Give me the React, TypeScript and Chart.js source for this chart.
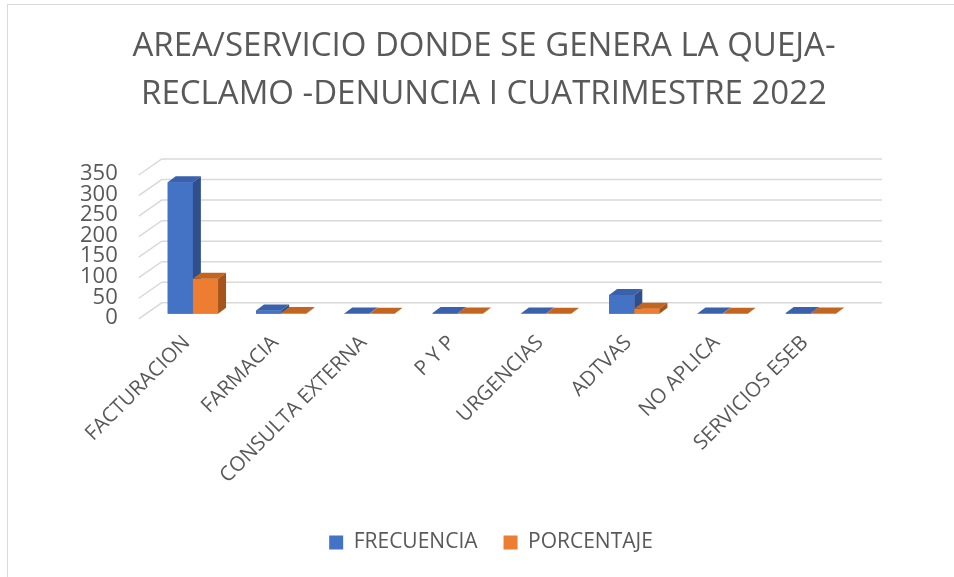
import React, { useEffect, useRef } from "react";
import { Chart, registerables } from "chart.js";

Chart.register(...registerables);

const categories = [
  "FACTURACION",
  "FARMACIA",
  "CONSULTA EXTERNA",
  "P Y P",
  "URGENCIAS",
  "ADTVAS",
  "NO APLICA",
  "SERVICIOS ESEB",
];
const frecuencia = [320, 8, 1, 2, 1, 46, 1, 2];
const porcentaje = [85, 2, 0, 1, 0, 12, 0, 1];
const titleLines = [
  "AREA/SERVICIO DONDE SE GENERA LA QUEJA-",
  "RECLAMO -DENUNCIA I CUATRIMESTRE 2022",
];

const FONT = "'Open Sans', 'Liberation Sans', sans-serif";
const TEXT = "#595959";

const faceColors = [
  { front: "#4472C4", top: "#3A62AC", side: "#2E4F8C" },
  { front: "#ED7D31", top: "#C4651F", side: "#A5541B" },
];
const DX = 8;
const DY = -6;

const titlePlugin = {
  id: "title3d",
  afterLayout(chart: any) {
    if (chart.legend) {
      chart.legend.left += 35;
      chart.legend.right += 35;
    }
  },
  afterDraw(chart: any) {
    const { ctx, width } = chart;
    ctx.save();
    ctx.fillStyle = TEXT;
    ctx.font = `33px ${FONT}`;
    ctx.textAlign = "center";
    ctx.textBaseline = "middle";
    titleLines.forEach((line, i) => {
      ctx.fillText(line, width / 2 + 7, 47 + i * 48);
    });
    ctx.restore();
  },
};

const gridPlugin = {
  id: "grid3d",
  beforeDatasetsDraw(chart: any) {
    const { ctx, chartArea, scales } = chart;
    const y = scales.y;
    ctx.save();
    ctx.strokeStyle = "#D9D9D9";
    ctx.lineWidth = 1.5;
    y.ticks.forEach((t: any) => {
      const yF = y.getPixelForValue(t.value) + 5;
      const yB = yF - 16;
      ctx.beginPath();
      ctx.moveTo(chartArea.left - 10, yF);
      ctx.lineTo(chartArea.left + 13, yB);
      ctx.lineTo(chartArea.right + 27, yB);
      ctx.stroke();
    });
    ctx.restore();
  },
  afterDatasetsDraw(chart: any) {
    const { ctx } = chart;
    const n = chart.data.labels.length;
    ctx.save();
    for (let i = 0; i < n; i++) {
      for (let d = 0; d < chart.data.datasets.length; d++) {
        const el = chart.getDatasetMeta(d).data[i];
        if (!el) continue;
        const c = faceColors[d];
        const l = el.x - el.width / 2;
        const r = el.x + el.width / 2;
        const top = el.y;
        const base = el.base;
        ctx.fillStyle = c.front;
        ctx.fillRect(l, top, r - l, base - top);
        ctx.fillStyle = c.top;
        ctx.beginPath();
        ctx.moveTo(l, top);
        ctx.lineTo(l + DX, top + DY);
        ctx.lineTo(r + DX, top + DY);
        ctx.lineTo(r, top);
        ctx.closePath();
        ctx.fill();
        ctx.fillStyle = c.side;
        ctx.beginPath();
        ctx.moveTo(r, top);
        ctx.lineTo(r + DX, top + DY);
        ctx.lineTo(r + DX, base + DY);
        ctx.lineTo(r, base);
        ctx.closePath();
        ctx.fill();
      }
    }
    ctx.restore();
  },
};

export default function App() {
  const ref = useRef<HTMLCanvasElement | null>(null);
  useEffect(() => {
    document.body.style.margin = "0";
    document.body.style.overflow = "hidden";
    if (!ref.current) return;
    const chart = new Chart(ref.current, {
      type: "bar",
      data: {
        labels: categories,
        datasets: [
          {
            label: "FRECUENCIA",
            data: frecuencia,
            backgroundColor: faceColors[0].front,
            categoryPercentage: 0.57,
            barPercentage: 1,
          },
          {
            label: "PORCENTAJE",
            data: porcentaje,
            backgroundColor: faceColors[1].front,
            categoryPercentage: 0.57,
            barPercentage: 1,
          },
        ],
      },
      options: {
        responsive: false,
        animation: false,
        maintainAspectRatio: false,
        layout: { padding: { left: 57, right: 99, top: 170, bottom: 14 } },
        plugins: {
          title: { display: false },
          legend: {
            position: "bottom",
            labels: {
              color: TEXT,
              font: { family: FONT, size: 21 },
              boxWidth: 14,
              boxHeight: 14,
              padding: 26,
              useBorderRadius: false,
            },
          },
          tooltip: { enabled: false },
        },
        scales: {
          x: {
            grid: { display: false },
            border: { display: false },
            afterFit(scale: any) {
              scale.paddingLeft = 0;
              scale.paddingRight = 0;
              scale.height += 9;
            },
            ticks: {
              color: TEXT,
              font: { family: FONT, size: 20.5 },
              maxRotation: 45,
              minRotation: 45,
              padding: 9,
              labelOffset: -6,
              autoSkip: false,
            },
          },
          y: {
            min: 0,
            max: 350,
            grid: { display: false },
            border: { display: false },
            ticks: {
              stepSize: 50,
              autoSkip: false,
              color: TEXT,
              font: { family: FONT, size: 22 },
              padding: 23,
              labelOffset: 4,
            },
          },
        },
      },
      plugins: [gridPlugin, titlePlugin],
    });
    return () => chart.destroy();
  }, []);
  return (
    <div
      style={{
        position: "relative",
        width: 954,
        height: 577,
        overflow: "hidden",
        background: "#fff",
      }}
    >
      <canvas ref={ref} width={954} height={577} style={{ display: "block" }} />
      <div
        style={{
          position: "absolute",
          left: 7,
          top: 4,
          width: 980,
          height: 600,
          border: "1px solid #D9D9D9",
          pointerEvents: "none",
        }}
      />
    </div>
  );
}
